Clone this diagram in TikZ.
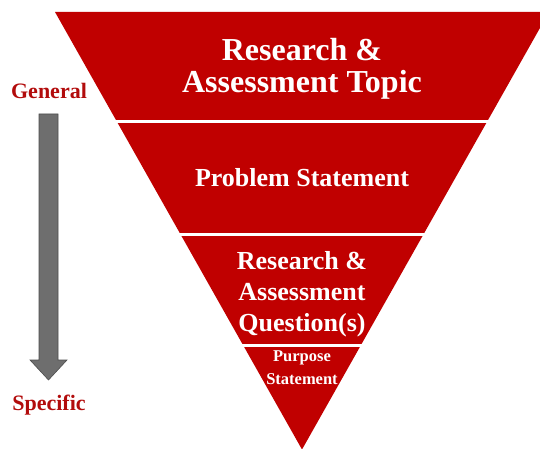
\documentclass[tikz,border=0pt]{standalone}
\usepackage{fontspec}
\setmainfont{Liberation Serif}
\usetikzlibrary{calc}

\definecolor{funnelred}{RGB}{192,0,0}
\definecolor{labelred}{RGB}{178,12,12}
\definecolor{arrowgray}{RGB}{110,110,110}

\tikzset{
    level/.style={text=white,align=center,inner sep=0pt},
    side/.style={text=labelred,inner sep=0pt,font=\bfseries\fontsize{22}{22}\selectfont},
}

\begin{document}
\begin{tikzpicture}[x=1pt,y=-1pt]
    	\useasboundingbox (0,0) rectangle (540,449);
    	\clip (0,0) rectangle (540,449);

    	% funnel, cut into four levels
    	\fill[funnelred] (55,12) -- (549,12) -- (302,449.5) -- cycle;
    	\foreach \y in {121.5,234,345.5}
    	    \draw[white,line width=3pt] (100,\y) -- (540,\y);

    	\node[level,font=\bfseries\fontsize{32}{32}\selectfont] (topic) at (302,68.5) {Research \&\\Assessment Topic};
    	\node[level,font=\bfseries\fontsize{26}{31}\selectfont,anchor=base] (problem) at (302,186) {Problem Statement};
    	\node[level,font=\bfseries\fontsize{26}{31}\selectfont] (question) at (302,293.8) {Research \&\\Assessment\\Question(s)};
    	\node[level,font=\bfseries\fontsize{16.5}{23.5}\selectfont] (purpose) at (302,367.6) {Purpose\\Statement};

    	% general -> specific
    	\node[side,anchor=base] (general) at (49,99) {General};
    	\node[side,anchor=base] (specific) at (49,410) {Specific};
    	\draw[draw=arrowgray!70!black,fill=arrowgray,line width=0.6pt]
    	    (39,114) -- (58,114) -- (58,360) -- (67,360) -- (48.5,380) -- (30,360) -- (39,360) -- cycle;
    \end{tikzpicture}
\end{document}
